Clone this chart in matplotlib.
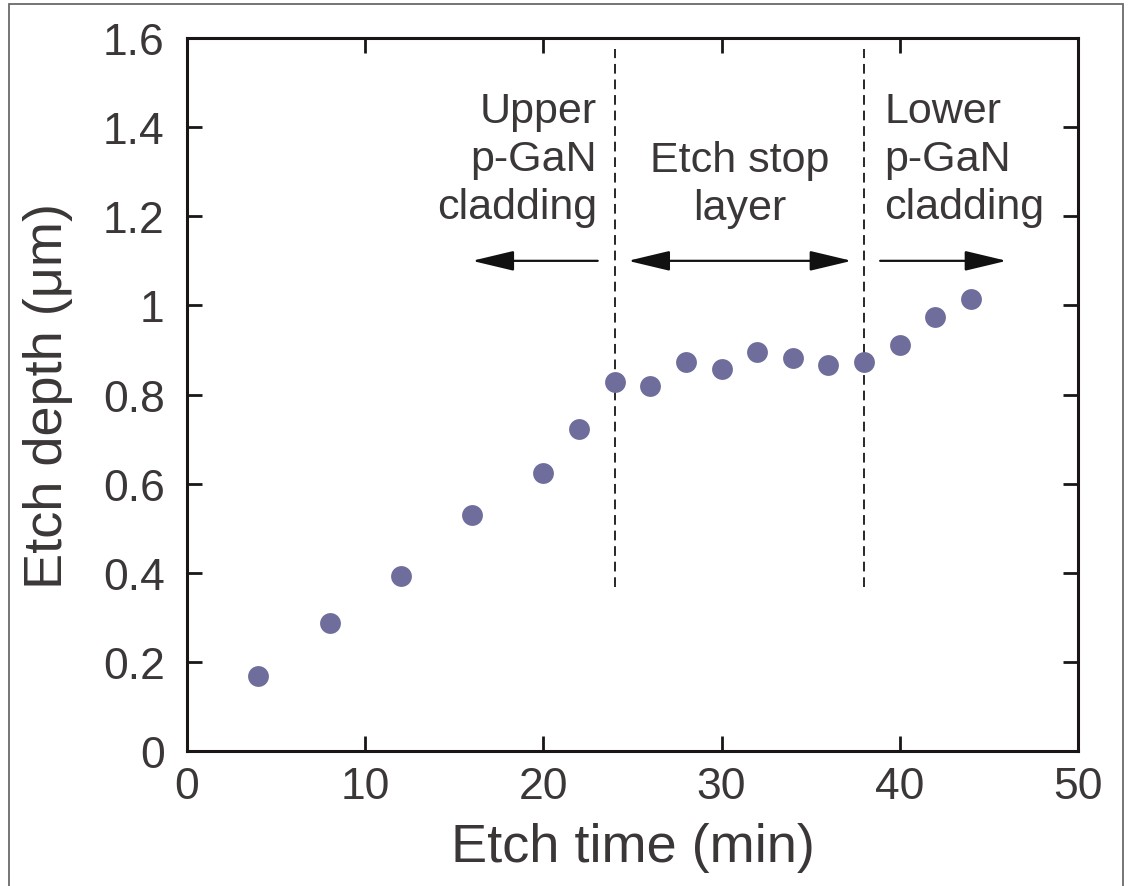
import matplotlib
matplotlib.use("Agg")
import matplotlib.pyplot as plt
from matplotlib.patches import Rectangle

# Data
etch_time = [4, 8, 12, 16, 20, 22, 24, 26, 28, 30, 32, 34, 36, 38, 40, 42, 44]
etch_depth = [0.168, 0.287, 0.393, 0.530, 0.624, 0.723, 0.828, 0.820, 0.874,
              0.857, 0.895, 0.883, 0.866, 0.874, 0.911, 0.974, 1.014]

boundaries = [24, 38]
x_ticks = [0, 10, 20, 30, 40, 50]
y_ticks = [0, 0.2, 0.4, 0.6, 0.8, 1.0, 1.2, 1.4, 1.6]
y_tick_labels = ["0", "0.2", "0.4", "0.6", "0.8", "1", "1.2", "1.4", "1.6"]

region_labels = ["Upper\np-GaN\ncladding", "Etch stop\nlayer", "Lower\np-GaN\ncladding"]

text_color = "#3b3737"
dot_color = "#6e6d9b"

plt.rcParams["font.family"] = ["Liberation Sans", "DejaVu Sans"]

fig = plt.figure(figsize=(11.31, 8.87), dpi=100)
ax = fig.add_axes([0.1653, 0.1522, 0.7878, 0.8038])

# grey outer frame
fig.patches.append(Rectangle((0.008, -0.05), 0.985, 1.044, transform=fig.transFigure,
                             fill=False, edgecolor="#6a6a6a", linewidth=1.3))

ax.plot(etch_time, etch_depth, "o", color=dot_color, markersize=15, markeredgewidth=0, zorder=3)

for b in boundaries:
    ax.plot([b, b], [0.368, 1.575], color="#2a2626", linewidth=1.4,
            linestyle=(0, (5.0, 3.0)), zorder=2)

arrow_y = 1.10
head = "head_length=2.6,head_width=0.62"
ax.annotate("", xy=(16.0, arrow_y), xytext=(23.05, arrow_y),
            arrowprops=dict(arrowstyle="-|>," + head, color="#111111", lw=1.6,
                            shrinkA=0, shrinkB=0, mutation_scale=10))
ax.annotate("", xy=(37.3, arrow_y), xytext=(24.75, arrow_y),
            arrowprops=dict(arrowstyle="<|-|>," + head, color="#111111", lw=1.6,
                            shrinkA=0, shrinkB=0, mutation_scale=10))
ax.annotate("", xy=(46.0, arrow_y), xytext=(38.9, arrow_y),
            arrowprops=dict(arrowstyle="-|>," + head, color="#111111", lw=1.6,
                            shrinkA=0, shrinkB=0, mutation_scale=10))

ax.text(23.0, 1.328, region_labels[0], ha="right", va="center", fontsize=31,
        color=text_color, linespacing=1.25)
ax.text(31.0, 1.272, region_labels[1], ha="center", va="center", fontsize=31,
        color=text_color, linespacing=1.25)
ax.text(39.15, 1.328, region_labels[2], ha="left", va="center", fontsize=31,
        color=text_color, linespacing=1.25)

ax.set_xlim(0, 50)
ax.set_ylim(0, 1.6)
ax.set_xticks(x_ticks)
ax.set_yticks(y_ticks)
ax.set_yticklabels(y_tick_labels)

ax.tick_params(direction="in", length=11, width=2.0, top=True, right=True,
               labelsize=32, labelcolor=text_color, color="#1a1616")
ax.tick_params(axis="x", pad=11)
ax.tick_params(axis="y", pad=16)
for s in ax.spines.values():
    s.set_linewidth(2.2)
    s.set_color("#1a1616")

ax.set_xlabel("Etch time (min)", fontsize=39, color=text_color)
ax.set_ylabel("Etch depth (μm)", fontsize=39, color=text_color)
ax.xaxis.set_label_coords(0.5, -0.1)
ax.yaxis.set_label_coords(-0.128, 0.5)

fig.savefig("out.png", dpi=100, facecolor="white")
